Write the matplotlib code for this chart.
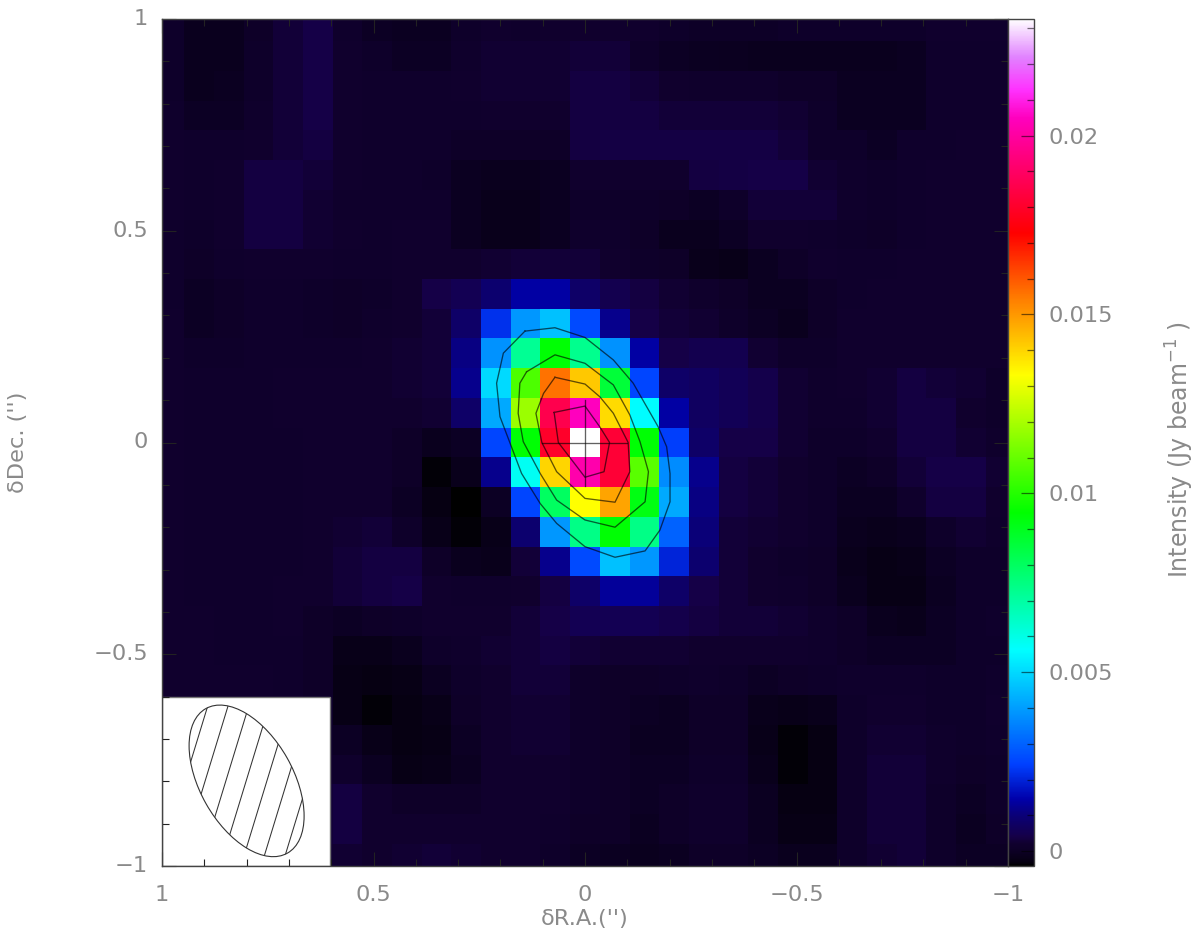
import numpy as np
import matplotlib
matplotlib.use("Agg")
import matplotlib.pyplot as plt
from matplotlib.colors import LinearSegmentedColormap, Normalize
from matplotlib.patches import Ellipse, Rectangle
from matplotlib.ticker import MultipleLocator
from matplotlib.transforms import ScaledTranslation

plt.rcParams['font.family'] = ['DejaVu Sans']
plt.rcParams['mathtext.default'] = 'regular'

# Intensity map, mJy/beam; rows top (+Dec) to bottom, columns left (+RA) to right
intensity_mjy = [
 [.1,-.1,-.1,.05,.3,.4,.15,0,-.05,-.05,.1,.2,.15,.2,.2,.2,.2,.1,.03,.03,.03,.1,.1,.1,.1,.1,.2,.2,.2],
 [.1,-.1,-.1,.1,.3,.4,.2,.1,0,0,.15,.25,.25,.25,.3,.3,.1,0,-.05,-.08,-.1,-.1,-.1,-.1,-.1,-.05,.15,.15,.15],
 [.1,-.1,-.05,.1,.3,.4,.2,.15,.15,.15,.2,.25,.25,.25,.35,.35,.3,.2,.15,.15,.15,.05,.05,-.05,-.05,-.05,.15,.15,.15],
 [.15,0,0,.15,.3,.4,.2,.15,.15,.15,.15,.2,.2,.2,.35,.35,.35,.3,.3,.3,.3,.25,.1,-.05,-.05,-.05,.15,.15,.15],
 [.2,.15,.15,.2,.3,.35,.2,.15,.15,.15,.05,.05,.05,.05,.35,.38,.38,.38,.38,.38,.38,.3,.1,.1,0,.15,.15,.2,.2],
 [.2,.15,.2,.35,.35,.3,.2,.15,.15,.1,-.05,-.1,-.1,-.05,.2,.2,.2,.2,.35,.38,.4,.4,.25,.15,.1,.15,.2,.2,.2],
 [.2,.15,.2,.35,.35,.25,.15,.15,.15,.15,-.05,-.15,-.15,-.05,.1,.1,.1,.05,0,.1,.3,.3,.3,.15,.1,.15,.2,.2,.2],
 [.15,.1,.2,.35,.35,.25,.2,.15,.2,.2,-.05,-.15,-.15,-.05,.15,.15,.05,-.1,-.1,0,.2,.2,.15,.1,.05,.15,.2,.2,.2],
 [.15,.05,.15,.2,.2,.2,.15,.15,.2,.2,.2,.25,.3,.3,.3,.2,.1,.05,-.15,-.2,-.05,.05,.2,.15,.15,.2,.2,.2,.2],
 [.15,0,.05,.15,.15,.1,.05,.1,.2,.4,.55,.9,1.4,1.4,.8,.5,.35,.25,.15,.05,-.05,-.05,.05,.15,.2,.2,.2,.2,.2],
 [.2,0,.05,.15,.15,.1,.05,.15,.2,.3,.8,2.2,3.9,4.6,2.6,1.2,.4,.3,.25,.1,0,-.1,.05,.2,.2,.2,.2,.2,.2],
 [.2,.1,.1,.15,.15,.15,.15,.2,.25,.3,1.1,3.8,7.2,9.4,7.3,3.8,1.4,.4,.5,.5,.25,.1,.1,.2,.2,.2,.2,.2,.2],
 [.2,.15,.15,.15,.2,.2,.2,.2,.25,.3,1.2,5.0,10.6,15.6,14.2,8.6,2.5,.8,.7,.6,.45,.25,.15,.2,.25,.35,.3,.25,.1],
 [.2,.15,.15,.15,.2,.2,.2,.2,.2,.25,.8,4.2,11.8,18.6,20.5,13.9,5.6,1.4,.7,.6,.45,.25,.15,.15,.25,.35,.35,.2,.1],
 [.2,.15,.15,.15,.15,.2,.2,.2,.05,-.1,0,2.5,9.4,18.0,23.3,18.2,9.4,2.4,.8,.4,.4,.25,.1,.1,.2,.35,.35,.25,.15],
 [.2,.15,.15,.15,.15,.2,.2,.2,.05,-.35,-.15,1.2,5.8,14.0,20.2,18.2,10.8,3.7,1.2,.35,.3,.2,.1,0,.05,.3,.4,.4,.25],
 [.2,.15,.15,.15,.15,.2,.2,.2,0,-.3,-.4,0,2.5,8.0,13.3,14.8,9.2,4.2,1.1,.35,.3,.2,.1,-.05,-.05,.15,.35,.35,.2],
 [.2,.15,.15,.15,.15,.2,.25,.3,.1,-.2,-.35,-.2,.9,3.9,7.4,9.4,7.4,3.0,1.0,.3,.25,.2,.1,-.1,-.15,-.1,.1,.25,.15],
 [.2,.15,.15,.15,.15,.2,.3,.35,.35,.05,-.1,-.15,.3,1.2,2.6,4.6,3.9,2.0,.9,.3,.2,.1,.05,-.15,-.25,-.2,0,.1,.1],
 [.2,.15,.15,.15,.2,.2,.3,.35,.4,.2,.15,.15,.2,.35,.8,1.3,1.3,.8,.4,.3,.2,.15,.05,-.1,-.25,-.25,-.05,.1,.1],
 [.2,.2,.15,.15,.2,.05,0,.05,.1,.2,.2,.2,.3,.4,.55,.55,.55,.45,.35,.3,.3,.25,.15,.05,-.1,-.15,0,.1,.15],
 [.2,.2,.15,.15,.15,.05,-.2,-.2,-.1,.1,.15,.25,.3,.35,.3,.25,.25,.25,.2,.2,.2,.2,.15,.05,0,0,0,.1,.1],
 [.2,.2,.2,.2,.15,.05,-.25,-.3,-.25,-.05,.1,.2,.3,.3,.1,.05,.05,.1,.15,.1,0,.05,.1,.15,.15,.15,.1,.1,.15],
 [.2,.2,.2,.2,.2,.1,-.25,-.35,-.3,-.2,.05,.2,.25,.25,.1,.05,0,-.05,.05,.05,-.15,-.2,-.15,.1,.2,.2,.1,.1,.2],
 [.2,.2,.2,.2,.2,.1,0,-.2,-.3,-.25,0,.2,.25,.25,.1,.05,-.05,-.05,.05,.05,-.2,-.35,-.3,.1,.25,.25,.15,.1,.15],
 [.2,.2,.2,.2,.2,.2,.15,-.05,-.25,-.2,-.05,.2,.2,.2,.1,.05,0,0,.1,.1,-.15,-.35,-.3,.1,.3,.3,.15,.05,.1],
 [.2,.2,.2,.2,.2,.3,.35,.2,.05,.05,.05,.2,.2,.2,.1,.05,0,.05,.15,.15,-.05,-.3,-.3,.1,.3,.3,.1,0,.1],
 [.2,.2,.2,.2,.2,.3,.35,.2,.2,.2,.2,.2,.2,.15,.05,.05,-.05,.05,.15,.15,-.05,-.25,-.25,.1,.3,.3,.1,-.05,.05],
 [.2,.2,.2,.2,.2,.25,.25,.2,.25,.3,.25,.2,.2,.1,0,-.05,-.1,-.05,.05,.05,0,-.1,-.1,.1,.25,.3,.1,0,0],
]
cell_arcsec = 0.0702

# Contours (RA offset, Dec offset), arcsec
contour1_ra = [.142,.071,0,-.067,-.114,-.173,-.193,-.201,-.201,-.177,-.142,-.071,0,.067,.106,.150,.177,.201,.209,.193,.142]
contour1_de = [.263,.271,.248,.195,.140,.037,-.010,-.073,-.140,-.207,-.256,-.271,-.246,-.191,-.144,-.073,-.002,.061,.140,.211,.263]
contour2_ra = [.138,.071,0,-.067,-.106,-.130,-.150,-.142,-.071,0,.067,.106,.146,.158,.154,.138]
contour2_de = [.167,.207,.187,.136,.065,.002,-.069,-.140,-.200,-.183,-.136,-.073,.002,.069,.140,.167]
contour3_ra = [.071,0,-.035,-.067,-.102,-.106,-.071,0,.067,.102,.116,.098,.071]
contour3_de = [.154,.138,.108,.069,0,-.069,-.141,-.132,-.069,0,.069,.116,.154]
contour4_ra = [.073,0,-.035,-.058,-.045,0,.063,.073]
contour4_de = [.071,.086,.037,0,-.069,-.082,0,.071]
cross_v_ra = [0, 0]
cross_v_de = [.10, -.103]
cross_h_ra = [.102, -.10]
cross_h_de = [0, 0]

# Beam
beam_ra, beam_de = 0.80, -0.799
beam_major, beam_minor, beam_angle = 0.392, 0.220, 60.5
hatch_ra = [.946, .898, .849, .801, .752, .704, .655]
hatch_slope = -0.306

# Colour scale (Jy/beam)
cmap_values = [-0.000416, -0.0003, 0.0, 0.0002, 0.0004, 0.0010, 0.00145, 0.00242, 0.0042, 0.00563, 0.0075, 0.00946,
               0.01331, 0.0154, 0.01728, 0.0190, 0.0205, 0.0213, 0.0222, 0.02326]
cmap_colors = ['#000000', '#060012', '#0d0026', '#10002e', '#150048', '#0a0078', '#0000aa', '#0040ff', '#00aaff', '#00ffff', '#00ff80', '#00ff00',
               '#ffff00', '#ff8000', '#ff0000', '#ff0064', '#ff00be', '#ff32ff', '#e182ff', '#ffffff']

x_ticks = [1, 0.5, 0, -0.5, -1]
x_labels = ['1', '0.5', '0', '\u22120.5', '\u22121']
cbar_ticks = [0, 0.005, 0.01, 0.015, 0.02]
cbar_labels = ['0', '0.005', '0.01', '0.015', '0.02']

W, H = 1200, 944
TXT = '#8a8a8a'
FS = 16.2
fig = plt.figure(figsize=(W/100, H/100), dpi=100, facecolor='white')
ax = fig.add_axes([162/W, 1-866/H, 846/W, 847/H])
cax = fig.add_axes([1008.3/W, 1-866/H, 26/W, 847/H])

vals = np.array(intensity_mjy) / 1000.0
n = vals.shape[1]
edges_x = (n/2 - np.arange(n+1)) * cell_arcsec
edges_y = (vals.shape[0]/2 - np.arange(vals.shape[0]+1)) * cell_arcsec

vmin, vmax = cmap_values[0], cmap_values[-1]
pos = [(v-vmin)/(vmax-vmin) for v in cmap_values]
cmap = LinearSegmentedColormap.from_list('map', list(zip(pos, cmap_colors)), N=1024)
norm = Normalize(vmin, vmax)
mesh = ax.pcolormesh(edges_x, edges_y, vals, cmap=cmap, norm=norm, shading='flat', zorder=1, rasterized=True)
ax.set_xlim(1, -1)
ax.set_ylim(-1, 1)

# contours
for xs, ys in [(contour1_ra, contour1_de), (contour2_ra, contour2_de), (contour3_ra, contour3_de),
               (contour4_ra, contour4_de), (cross_v_ra, cross_v_de), (cross_h_ra, cross_h_de)]:
    ax.plot(xs, ys, color='black', lw=0.95, alpha=0.62, zorder=3)

# beam inset
ax.add_patch(Rectangle((0.603, -1), 0.397, 0.4, facecolor='white', edgecolor='#777777', lw=1.0, zorder=1.5))
beam = Ellipse((beam_ra, beam_de), beam_major, beam_minor, angle=beam_angle, fill=False,
               edgecolor='#333333', lw=0.8, zorder=3)
ax.add_patch(beam)
for x0 in hatch_ra:
    yy = np.array([beam_de-0.3, beam_de+0.3])
    line, = ax.plot(x0 + hatch_slope*(yy-beam_de), yy, color='#333333', lw=0.75, zorder=3)
    line.set_clip_path(beam)

# axes furniture
for a in (ax, cax):
    for s in a.spines.values():
        s.set_color('#444444')
        s.set_linewidth(1.0)
ax.xaxis.set_minor_locator(MultipleLocator(0.1))
ax.yaxis.set_minor_locator(MultipleLocator(0.1))
ax.set_xticks(x_ticks, x_labels)
ax.set_yticks(x_ticks, x_labels)
ax.tick_params(which='major', direction='in', length=10, width=0.8, color='#222222',
               top=True, right=True, labelsize=FS, labelcolor=TXT)
ax.tick_params(which='minor', direction='in', length=5, width=0.8, color='#222222', top=True, right=True)
ax.tick_params(axis='x', which='major', pad=14)
ax.tick_params(axis='y', which='major', pad=10)
shift_up = ScaledTranslation(0, 2/72*0.72, fig.dpi_scale_trans)
for lab in ax.get_yticklabels():
    lab.set_transform(lab.get_transform() + shift_up)
fig.text(585/W, 1-919/H, "\u03b4R.A.('')", color=TXT, fontsize=FS, ha='center', va='center')
fig.text(18/W, 1-442/H, "\u03b4Dec. ('')", color=TXT, fontsize=FS, ha='center', va='center', rotation=90)

cb = fig.colorbar(mesh, cax=cax)
cb.outline.set_edgecolor('#444444')
cb.outline.set_linewidth(1.0)
cb.set_ticks(cbar_ticks, labels=cbar_labels)
cb.ax.yaxis.set_minor_locator(MultipleLocator(0.001))
cax.tick_params(which='major', direction='in', length=9.5, width=0.9, color=(0, 0, 0, 0.55),
                labelsize=FS, labelcolor=TXT, pad=10, right=True, left=False)
cax.tick_params(which='minor', direction='in', length=5, width=0.9, color=(0, 0, 0, 0.55), right=True, left=False)
fig.text(1180/W, 1-450/H, "Intensity (Jy beam$^{-1}$ )", color=TXT, fontsize=17, ha='center', va='center', rotation=90)

fig.savefig('out.png', dpi=100, facecolor='white')
